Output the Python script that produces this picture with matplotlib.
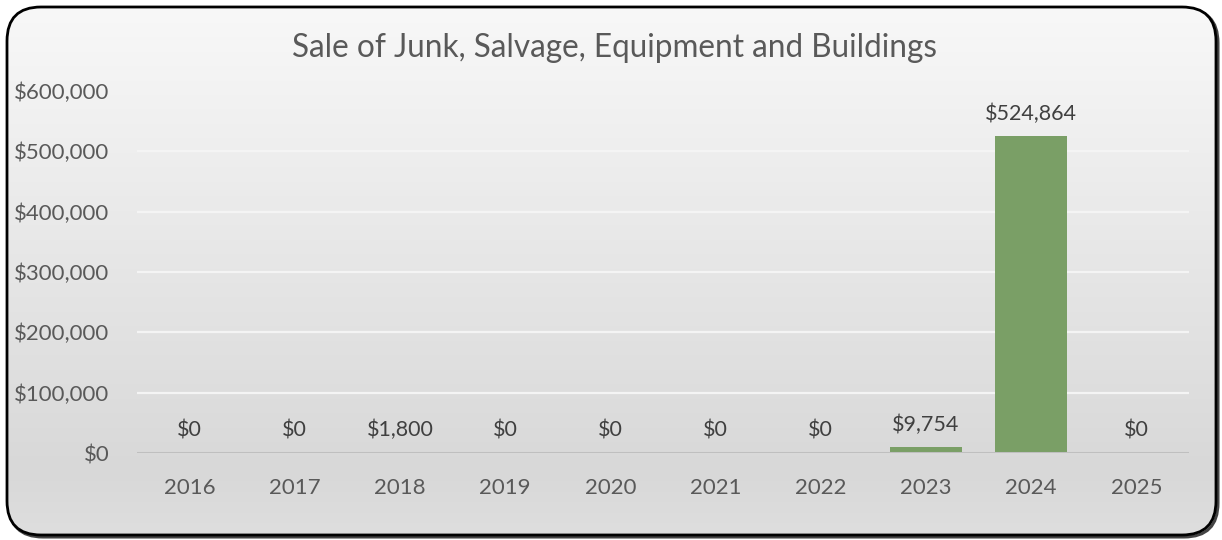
import matplotlib
matplotlib.use("Agg")
import matplotlib.pyplot as plt
import numpy as np
from matplotlib.patches import FancyBboxPatch
from matplotlib.colors import LinearSegmentedColormap
from matplotlib.ticker import FuncFormatter

years = ["2016", "2017", "2018", "2019", "2020", "2021", "2022", "2023", "2024", "2025"]
sales = [0, 0, 1800, 0, 0, 0, 0, 9754, 524864, 0]
y_ticks = [0, 100000, 200000, 300000, 400000, 500000, 600000]
title = "Sale of Junk, Salvage, Equipment and Buildings"

FONT = ["Lato", "DejaVu Sans"]
W, H = 1222, 540
fig = plt.figure(figsize=(W / 100, H / 100), dpi=100)
fig.patch.set_facecolor("white")

# background panel with rounded frame and vertical gradient
bg = fig.add_axes([0, 0, 1, 1])
bg.set_xlim(0, W)
bg.set_ylim(0, H)
bg.axis("off")
x0, y0, x1, y1 = 7, 5, 1216, 533
r = 34
shadow = FancyBboxPatch((x0 + 2, y0 - 2), x1 - x0, y1 - y0,
                        boxstyle=f"round,pad=0,rounding_size={r}",
                        facecolor="none", edgecolor="#444444", lw=2.2, zorder=1)
bg.add_patch(shadow)
frame = FancyBboxPatch((x0, y0), x1 - x0, y1 - y0,
                       boxstyle=f"round,pad=0,rounding_size={r}",
                       facecolor="none", edgecolor="black", lw=2.0, zorder=3)
bg.add_patch(frame)
cmap = LinearSegmentedColormap.from_list(
    "panel", [(0.0, "#dedede"), (0.12, "#d8d8d8"), (1.0, "#f8f8f8")])
grad = np.linspace(0, 1, 256).reshape(-1, 1)
im = bg.imshow(grad, extent=[x0, x1, y0, y1], origin="lower", cmap=cmap,
               aspect="auto", zorder=2)
im.set_clip_path(frame)

# chart axes
ax = fig.add_axes([137 / W, 1 - 453 / H, (1189 - 137) / W, (453 - 91) / H])
ax.patch.set_alpha(0)
x = np.arange(len(years))
bars = ax.bar(x, sales, width=0.69, color="#7a9f66", zorder=3)
ax.set_xlim(-0.5, len(years) - 0.5)
ax.set_ylim(0, 600000)
ax.set_yticks(y_ticks)
ax.yaxis.set_major_formatter(FuncFormatter(lambda v, p: f"${v:,.0f}"))
ax.set_xticks(x)
ax.set_xticklabels(years)
for s in ax.spines.values():
    s.set_visible(False)
ax.tick_params(axis="both", length=0, labelsize=16, labelcolor="#595959")
ax.tick_params(axis="y", pad=20)
ax.tick_params(axis="x", pad=18)
for lab in ax.get_xticklabels() + ax.get_yticklabels():
    lab.set_family(FONT)
for t in y_ticks[1:-1]:
    ax.axhline(t, color="#f4f4f4", lw=1.6, zorder=1)
ax.axhline(0, color="#bfbfbf", lw=2.2, zorder=4)

for xi, v in zip(x, sales):
    ax.annotate(f"${v:,.0f}", (xi, v), xytext=(0, 16), textcoords="offset points",
                ha="center", va="center", fontsize=15.5, color="#404040",
                family=FONT, zorder=5)

fig.text(614 / W, 1 - 48 / H, title, ha="center", va="center",
         fontsize=22.7, color="#595959", family=FONT)

fig.savefig("out.png", dpi=100)
